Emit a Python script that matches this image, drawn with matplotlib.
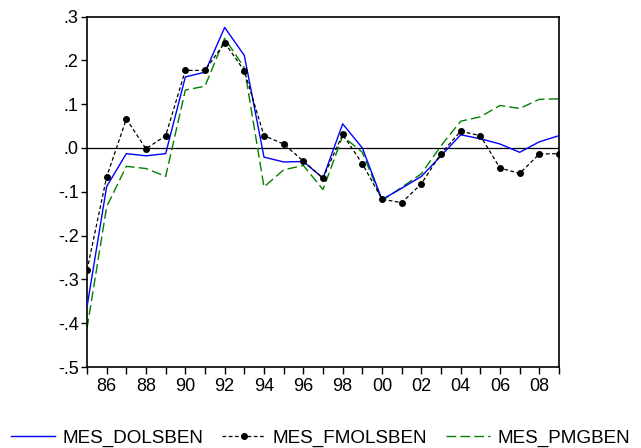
import matplotlib
matplotlib.use("Agg")
import matplotlib.pyplot as plt
from matplotlib.ticker import FixedLocator, FuncFormatter

plt.rcParams['font.family'] = ['Liberation Sans', 'DejaVu Sans']

years = list(range(1985, 2010))
mes_dolsben = [-0.363, -0.088, -0.013, -0.018, -0.013, 0.162, 0.173, 0.275, 0.211,
               -0.021, -0.032, -0.031, -0.069, 0.055, 0.000, -0.118, -0.092, -0.065,
               -0.018, 0.030, 0.021, 0.009, -0.010, 0.014, 0.028]
mes_fmolsben = [-0.279, -0.066, 0.066, -0.002, 0.028, 0.177, 0.177, 0.240, 0.176,
                0.028, 0.009, -0.030, -0.069, 0.031, -0.036, -0.117, -0.125, -0.082,
                -0.013, 0.038, 0.028, -0.046, -0.058, -0.014, -0.013]
mes_pmgben = [-0.412, -0.134, -0.042, -0.047, -0.065, 0.132, 0.141, 0.250, 0.183,
              -0.089, -0.050, -0.040, -0.095, 0.027, -0.010, -0.120, -0.090, -0.059,
              0.005, 0.061, 0.071, 0.097, 0.090, 0.111, 0.112]
series_names = ["MES_DOLSBEN", "MES_FMOLSBEN", "MES_PMGBEN"]
y_ticks = [0.3, 0.2, 0.1, 0.0, -0.1, -0.2, -0.3, -0.4, -0.5]

fig = plt.figure(figsize=(6.41, 4.48), dpi=100)
ax = fig.add_axes([87/641, 1-367/448, (559-87)/641, (367-16.5)/448])

ax.axhline(0, color='black', lw=0.9, zorder=1)
ax.plot(years, mes_dolsben, color='#0000ff', lw=1.0, label=series_names[0], zorder=3)
ax.plot(years, mes_fmolsben, color='black', lw=0.9, ls=(0, (3, 2)), marker='o',
        markersize=4, label=series_names[1], zorder=4)
ax.plot(years, mes_pmgben, color='#008000', lw=1.0, ls=(0, (7, 3)), label=series_names[2], zorder=2)

ax.set_xlim(1985, 2009)
ax.set_ylim(-0.5, 0.3)

def yfmt(v, pos):
    s = "%.1f" % v
    if s == "-0.0":
        s = "0.0"
    return s.replace("0.", ".", 1)

ax.yaxis.set_major_locator(FixedLocator(y_ticks))
ax.yaxis.set_major_formatter(FuncFormatter(yfmt))
ax.xaxis.set_major_locator(FixedLocator([y for y in years if y % 2 == 0]))
ax.xaxis.set_minor_locator(FixedLocator([y for y in years if y % 2 == 1]))
ax.xaxis.set_major_formatter(FuncFormatter(lambda v, p: "%02d" % (int(round(v)) % 100)))

ax.tick_params(axis='y', direction='out', length=4, width=1, labelsize=13, pad=2)
ax.tick_params(axis='x', which='both', direction='out', length=5, width=1, labelsize=13, pad=3)
ax.tick_params(right=False, top=False)
for sp in ax.spines.values():
    sp.set_linewidth(1.2)

fig.legend(loc='lower center', bbox_to_anchor=(0.5, -0.022), ncol=3, frameon=False,
           fontsize=13.6, handlelength=2.3, handletextpad=0.4, columnspacing=1.0,
           borderaxespad=0.2)

fig.savefig("out.png", dpi=100)
